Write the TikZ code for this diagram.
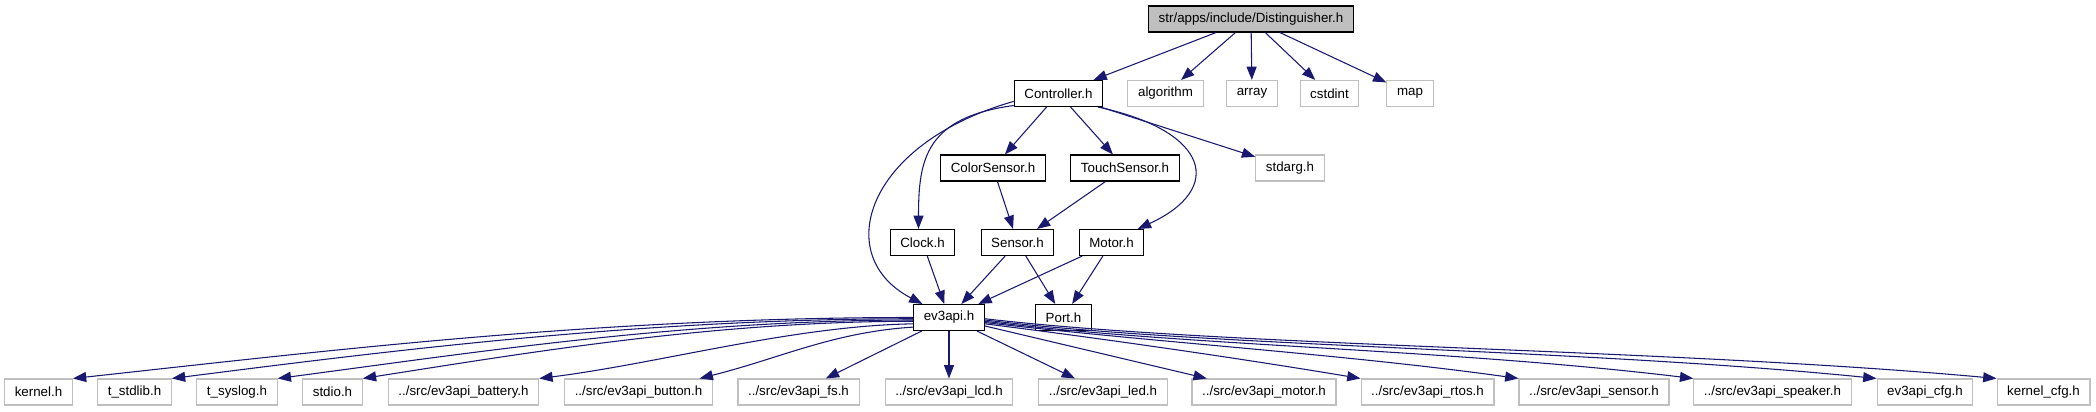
\documentclass[tikz,border=0pt]{standalone}
\usepackage{fontspec}
\setmainfont{Liberation Sans}
\usetikzlibrary{arrows.meta}
\definecolor{arestaazul}{RGB}{25,25,112}
\definecolor{bordacinza}{RGB}{191,191,191}

\begin{document}
\begin{tikzpicture}[x=0.75pt,y=0.75pt,
  arquivo/.style={draw=black, line width=0.8pt, minimum height=19.5pt, inner xsep=7.6pt, inner ysep=0pt, font=\fontsize{10}{12}\selectfont},
  externo/.style={arquivo, draw=bordacinza},
  raiz/.style={arquivo, fill=bordacinza, minimum width=153pt},
  seta/.style={draw=arestaazul, line width=0.8pt, -{Triangle[length=10pt,width=7.5pt]}}]

\useasboundingbox (0,0) rectangle (2096,411);

% Arquivo principal
\node[raiz] (dist) at (1251,392) {str/apps/include/Distinguisher.h};

% Nivel 1
\node[arquivo] (ctrl) at (1058.5,317.5) {Controller.h};
\node[externo] (algorithm) at (1165.5,317.5) {algorithm};
\node[externo] (array) at (1252,317.5) {array};
\node[externo] (cstdint) at (1329.5,317.5) {cstdint};
\node[externo] (map) at (1410,317.5) {map};

% Nivel 2
\node[arquivo] (colorsensor) at (993,243) {ColorSensor.h};
\node[arquivo] (touchsensor) at (1125,243) {TouchSensor.h};
\node[externo] (stdarg) at (1290,243) {stdarg.h};

% Nivel 3
\node[arquivo] (clock) at (922.5,168.5) {Clock.h};
\node[arquivo] (sensor) at (1017.5,168.5) {Sensor.h};
\node[arquivo] (motor) at (1111.5,168.5) {Motor.h};

% Nivel 4
\node[arquivo] (ev3api) at (949,93.5) {ev3api.h};
\node[arquivo] (port) at (1063.5,93.5) {Port.h};

% Nivel 5
\node[externo] (kernel) at (38.5,19) {kernel.h};
\node[externo] (tstdlib) at (134.5,19) {t\_stdlib.h};
\node[externo] (tsyslog) at (237,19) {t\_syslog.h};
\node[externo] (stdio) at (332.5,19) {stdio.h};
\node[externo] (battery) at (463.5,19) {../src/ev3api\_battery.h};
\node[externo] (button) at (638.5,19) {../src/ev3api\_button.h};
\node[externo] (fs) at (798.5,19) {../src/ev3api\_fs.h};
\node[externo] (lcd) at (949,19) {../src/ev3api\_lcd.h};
\node[externo] (led) at (1103,19) {../src/ev3api\_led.h};
\node[externo] (motorsrc) at (1264,19) {../src/ev3api\_motor.h};
\node[externo] (rtos) at (1427.5,19) {../src/ev3api\_rtos.h};
\node[externo] (sensorsrc) at (1594,19) {../src/ev3api\_sensor.h};
\node[externo] (speaker) at (1772.5,19) {../src/ev3api\_speaker.h};
\node[externo] (cfg) at (1925,19) {ev3api\_cfg.h};
\node[externo] (kernelcfg) at (2043.5,19) {kernel\_cfg.h};

% Arestas do arquivo principal
\draw[seta] (dist) -- (ctrl);
\draw[seta] (dist) -- (algorithm);
\draw[seta] (dist) -- (array);
\draw[seta] (dist) -- (cstdint);
\draw[seta] (dist) -- (map);

% Arestas de Controller.h
\draw[seta] (ctrl) -- (colorsensor);
\draw[seta] (ctrl) -- (touchsensor);
\draw[seta] (ctrl) -- (stdarg);
\draw[seta] (ctrl.195) .. controls +(-88,-12) and +(0,70) .. ([xshift=-3pt]clock.north);
\draw[seta] (ctrl.190) .. controls +(-148,-42) and +(-92,48) .. ([xshift=7pt]ev3api.north west);
\draw[seta] ([xshift=-4pt]ctrl.south east) .. controls +(112,-24) and +(87,40) .. ([xshift=-5pt]motor.north east);

% Sensores e motor
\draw[seta] (colorsensor) -- (sensor);
\draw[seta] (touchsensor) -- (sensor);
\draw[seta] (clock) -- (ev3api);
\draw[seta] (sensor) -- (ev3api);
\draw[seta] (sensor) -- (port);
\draw[seta] (motor) -- (ev3api);
\draw[seta] (motor) -- (port);

% Arestas de ev3api.h
\draw[seta] (ev3api.180) .. controls +(-313,0) and +(257,28) .. (kernel.north east);
\draw[seta] (ev3api.182) .. controls +(-270,0) and +(220,28) .. (tstdlib.north east);
\draw[seta] (ev3api.184) .. controls +(-230,0) and +(190,25) .. (tsyslog.north east);
\draw[seta] (ev3api.186) .. controls +(-200,0) and +(160,25) .. (stdio.north east);
\draw[seta] (ev3api.190) .. controls +(-120,-2) and +(120,15) .. (battery.north east);
\draw[seta] (ev3api.195) .. controls +(-80,-5) and +(80,20) .. ([xshift=-10pt]button.north east);
\draw[seta] (ev3api) -- (fs);
\draw[seta] (ev3api) -- (lcd);
\draw[seta] (ev3api) -- (led);
\draw[seta] (ev3api) -- (motorsrc);
\draw[seta] (ev3api.350) .. controls +(120,-15) and +(-120,20) .. (rtos.north west);
\draw[seta] (ev3api.352) .. controls +(170,-20) and +(-180,25) .. (sensorsrc.north west);
\draw[seta] (ev3api.354) .. controls +(200,-25) and +(-250,30) .. (speaker.north west);
\draw[seta] (ev3api.356) .. controls +(220,-27) and +(-300,30) .. (cfg.north west);
\draw[seta] (ev3api.358) .. controls +(240,-28) and +(-330,30) .. (kernelcfg.north west);

\end{tikzpicture}
\end{document}
